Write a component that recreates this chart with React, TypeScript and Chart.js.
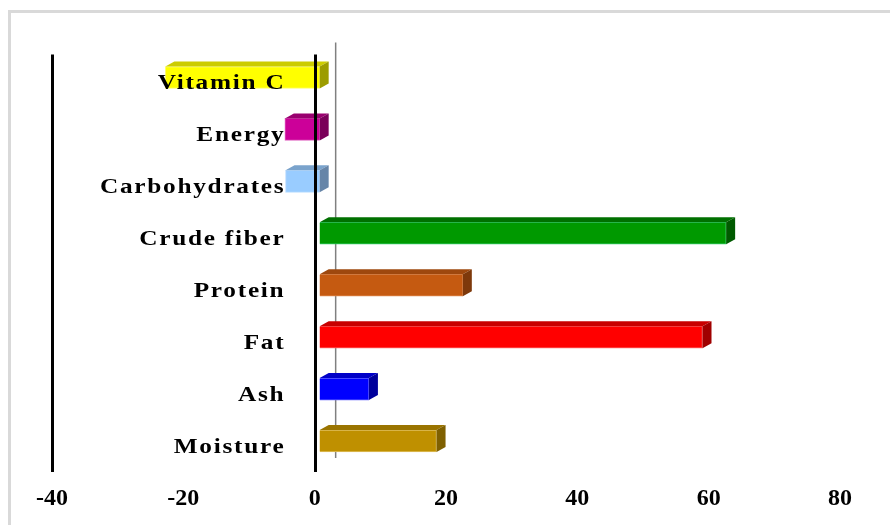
import React, { useEffect, useRef } from "react";
import { Chart, registerables } from "chart.js";

Chart.register(...registerables);

const categories = ["Moisture", "Ash", "Fat", "Protein", "Crude fiber", "Carbohydrates", "Energy", "Vitamin C"];
const values = [17.8, 7.5, 58.3, 21.8, 61.9, -5.2, -5.3, -23.5];
const frontColors = ["#BF9000", "#0000FF", "#FF0000", "#C55A11", "#009900", "#99CCFF", "#CC0099", "#FFFF00"];
const topColors = ["#9A7400", "#0000C8", "#C80000", "#9E480E", "#007000", "#7AA3CC", "#99006F", "#CCCC00"];
const sideColors = ["#7F6000", "#00009C", "#A00000", "#7E390B", "#005A00", "#6685A8", "#7A0059", "#9C9C00"];
const edgeColors = ["#E0C060", "#6666FF", "#FF7070", "#E08A50", "#33CC66", "#BBDDFF", "#E060C0", "#FFFF66"];
const xTicks = [-40, -20, 0, 20, 40, 60, 80];

const FONT = '"Liberation Serif", "Times New Roman", serif';
const DX = 9;
const DY = -5;
const SHIFT_X = 5;
const SHIFT_Y = -3;
const LABEL_STRETCH = 1.15;

const depthPlugin = {
  id: "depth3d",
  beforeDatasetsDraw(chart: any) {
    const ctx = chart.ctx;
    const { top, bottom } = chart.chartArea;
    const x0 = chart.scales.x.getPixelForValue(0);
    ctx.save();
    ctx.strokeStyle = "#808080";
    ctx.lineWidth = 1.5;
    ctx.beginPath();
    ctx.moveTo(x0 + 21, top - 12);
    ctx.lineTo(x0 + 21, bottom - 12);
    ctx.stroke();
    ctx.restore();
    ctx.save();
    ctx.translate(SHIFT_X, SHIFT_Y);
  },
  afterDatasetsDraw(chart: any) {
    const ctx = chart.ctx;
    const meta = chart.getDatasetMeta(0);
    meta.data.forEach((bar: any, i: number) => {
      const { x, y, base, height } = bar.getProps(["x", "y", "base", "height"], true);
      const left = Math.min(x, base);
      const right = Math.max(x, base);
      const t = y - height / 2;
      const b = y + height / 2;
      ctx.fillStyle = topColors[i];
      ctx.beginPath();
      ctx.moveTo(left, t);
      ctx.lineTo(left + DX, t + DY);
      ctx.lineTo(right + DX, t + DY);
      ctx.lineTo(right, t);
      ctx.closePath();
      ctx.fill();
      ctx.fillStyle = sideColors[i];
      ctx.beginPath();
      ctx.moveTo(right, t);
      ctx.lineTo(right + DX, t + DY);
      ctx.lineTo(right + DX, b + DY);
      ctx.lineTo(right, b);
      ctx.closePath();
      ctx.fill();
    });
    ctx.restore();

    const { top, bottom } = chart.chartArea;
    const xs = chart.scales.x;
    ctx.save();
    ctx.strokeStyle = "#000";
    ctx.lineWidth = 3;
    [xTicks[0], 0].forEach((v) => {
      const px = Math.round(xs.getPixelForValue(v)) + 0.5;
      ctx.beginPath();
      ctx.moveTo(px, top);
      ctx.lineTo(px, bottom + 2);
      ctx.stroke();
    });
    ctx.restore();

    const ys = chart.scales.y;
    const x0 = xs.getPixelForValue(0);
    const rightEdge = x0 - 31;
    categories.forEach((c, i) => {
      const py = ys.getPixelForValue(i);
      ctx.save();
      ctx.translate(rightEdge, py + 8.5);
      ctx.scale(LABEL_STRETCH, 1);
      ctx.font = `bold 22px ${FONT}`;
      (ctx as any).letterSpacing = "1.5px";
      ctx.fillStyle = "#000";
      ctx.textAlign = "right";
      ctx.textBaseline = "alphabetic";
      ctx.fillText(c, 1.5, 0);
      ctx.restore();
    });
  },
};

export default function App() {
  const ref = useRef<HTMLCanvasElement>(null);
  useEffect(() => {
    if (!ref.current) return;
    const chart = new Chart(ref.current, {
      type: "bar",
      data: {
        labels: categories,
        datasets: [
          {
            data: values,
            backgroundColor: frontColors,
            borderColor: edgeColors,
            borderWidth: 1,
            barThickness: 22,
            clip: false as any,
          },
        ],
      },
      options: {
        indexAxis: "y",
        responsive: false,
        maintainAspectRatio: false,
        devicePixelRatio: 1,
        animation: false,
        layout: { padding: { left: 52, right: 50, top: 54.5, bottom: 0 } },
        plugins: { legend: { display: false }, tooltip: { enabled: false } },
        scales: {
          x: {
            type: "linear",
            min: -40,
            max: 80,
            afterBuildTicks: (axis: any) => {
              axis.ticks = xTicks.map((v) => ({ value: v }));
            },
            afterFit: (axis: any) => {
              axis.height = 55;
            },
            ticks: {
              color: "#000",
              padding: 14,
              font: { family: FONT, size: 24, weight: "bold" },
            },
            grid: { display: false, drawTicks: false },
            border: { display: false },
          },
          y: {
            type: "category",
            reverse: true,
            display: false,
          },
        },
      },
      plugins: [depthPlugin],
    });
    return () => chart.destroy();
  }, []);
  return (
    <div style={{ position: "fixed", left: 0, top: 0, width: 890, height: 525, overflow: "hidden", background: "#fff" }}>
      <canvas ref={ref} width={890} height={525} style={{ position: "absolute", left: 0, top: 0 }} />
      <div
        style={{
          position: "absolute",
          left: 8,
          top: 10,
          width: 900,
          height: 530,
          borderLeft: "3px solid #d9d9d9",
          borderTop: "3px solid #d9d9d9",
          pointerEvents: "none",
        }}
      />
    </div>
  );
}
